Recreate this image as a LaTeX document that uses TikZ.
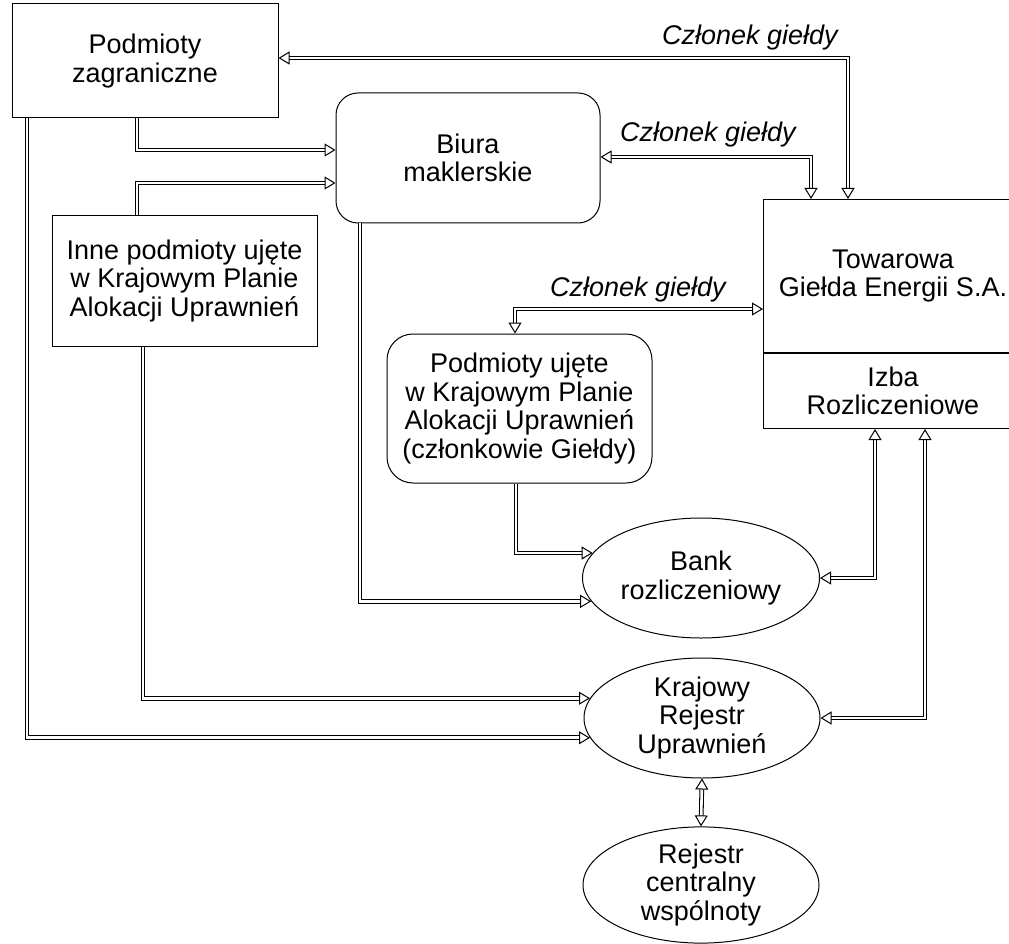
\documentclass[tikz,border=0pt]{standalone}
\usepackage{fontspec}
\setmainfont{Liberation Sans}
\usetikzlibrary{
  arrows.meta,
  positioning,
  shapes.geometric,
}
\tikzset{
  >={Triangle[open,length=11pt,width=13pt,line width=1pt 0]},
  box/.style={draw,rectangle,line width=1pt,align=center,inner sep=0pt,font=\fontsize{27}{28.5}\selectfont},
  rbox/.style={box,rounded corners=22pt},
  oval/.style={box,ellipse},
  lbl/.style={font=\fontsize{27}{28.5}\selectfont\itshape,inner sep=0pt},
  link/.style={double,double distance=2.6pt,line width=1.05pt,->},
  link2/.style={link,<->},
}

\begin{document}
\begin{tikzpicture}[x=1pt,y=-1pt]
        \useasboundingbox (0,0) rectangle (1009,944);

        \node[box,minimum width=266,minimum height=114]    (zagr) at (145,61)     {Podmioty\\zagraniczne};
        \node[box,minimum width=265,minimum height=131]    (inne) at (184.5,281)  {Inne podmioty ujęte\\w Krajowym Planie\\Alokacji Uprawnień};
        \node[rbox,minimum width=264,minimum height=130]   (biura) at (468,158)   {Biura\\maklerskie};
        \node[rbox,minimum width=265,minimum height=149,rounded corners=26pt]   (podm) at (519.5,408.5) {Podmioty ujęte\\w Krajowym Planie\\Alokacji Uprawnień\\(członkowie Giełdy)};
        \node[box,minimum width=259,minimum height=153,anchor=north west]    (tge) at (763,199)   {Towarowa\\Giełda Energii S.A.};
        \node[box,minimum width=259,minimum height=75]     (izba) [below=0pt of tge]  {Izba\\Rozliczeniowe};
        \node[oval,minimum width=237,minimum height=120]   (bank) at (701,578)    {Bank\\rozliczeniowy};
        \node[oval,minimum width=236,minimum height=120]   (kraj) at (702,718)    {Krajowy\\Rejestr\\Uprawnień};
        \node[oval,minimum width=236,minimum height=116]   (rej) at (701,885)     {Rejestr\\centralny\\wspólnoty};

        \node[lbl] (czl1) at (750,38)  {Członek giełdy};
        \node[lbl] (czl2) at (708,135) {Członek giełdy};
        \node[lbl] (czl3) at (638,290) {Członek giełdy};

        % gielda - czlonkowie
        \draw[link2] (zagr.east |- 0,58) -| (tge.north -| 848,0);
        \draw[link2] (biura.east |- 0,157) -| (tge.north -| 811,0);
        \draw[link2] (podm.north -| 515,0) |- (tge.west |- 0,309);

        % do biur maklerskich
        \draw[link] (zagr.south -| 137,0) |- (biura.west |- 0,150);
        \draw[link] (inne.north -| 137,0) |- (biura.west |- 0,183);

        % bank rozliczeniowy
        \draw[link] (podm.south -| 516,0) |- (bank.167);
        \draw[link] (biura.south -| 360,0) |- (bank.192);
        \draw[link2] (izba.south -| 875,0) |- (bank.east);

        % rejestr
        \draw[link] (inne.south -| 143,0) |- (kraj.170);
        \draw[link] (zagr.south -| 27,0) |- (kraj.190);
        \draw[link2] (izba.south -| 925,0) |- (kraj.east);
        \draw[link2] (kraj.south) -- (rej.north);

\end{tikzpicture}
\end{document}
